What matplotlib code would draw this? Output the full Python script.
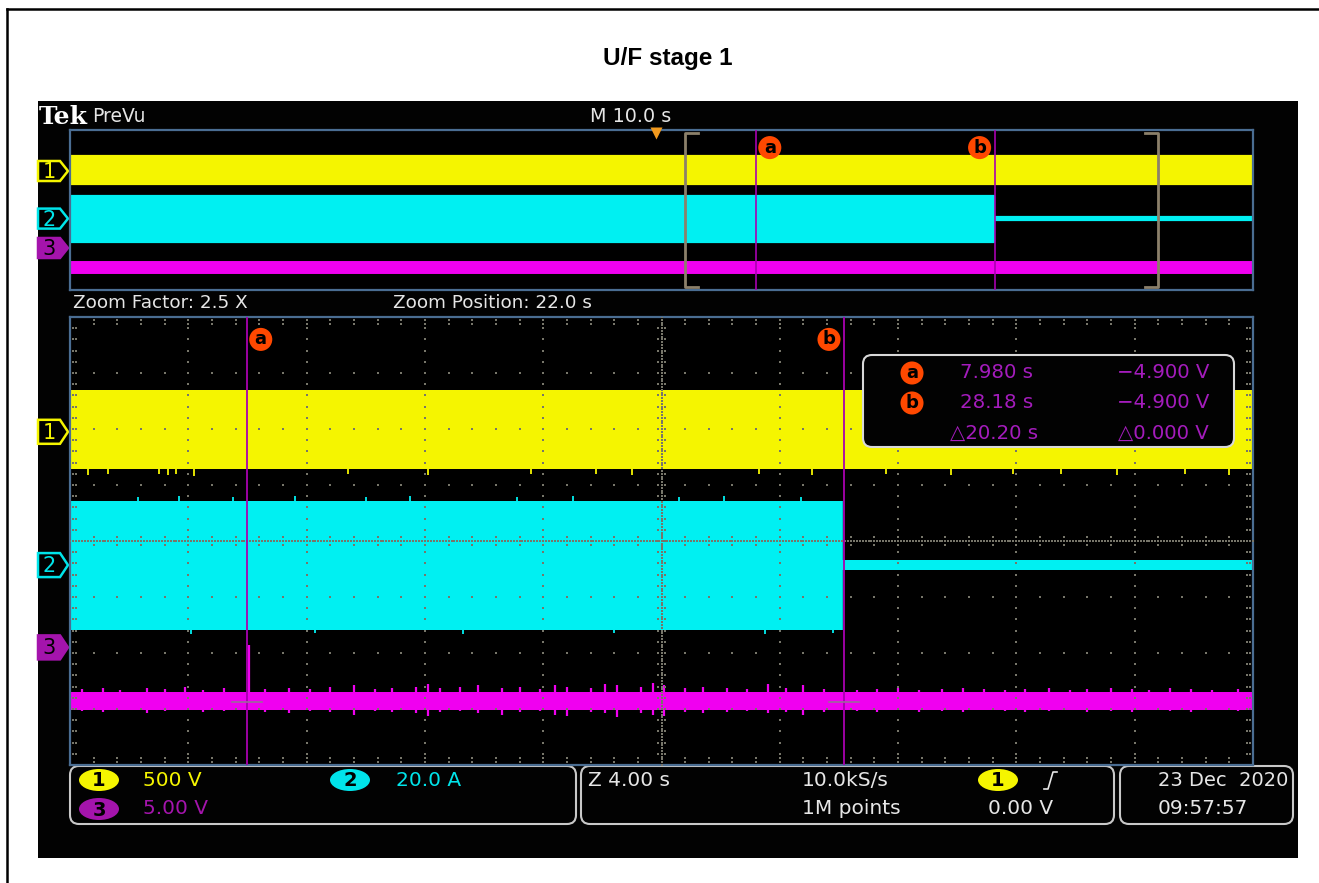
import numpy as np
import matplotlib.pyplot as plt
from matplotlib.patches import Polygon, FancyBboxPatch, Ellipse

W, H = 1319, 883

# channel setup: volts (or amps) per division and offset in divisions
ch_labels = ['1', '2', '3']
ch_scales = [500.0, 20.0, 5.00]
ch_units = ['V', 'A', 'V']
ch_offsets = [1.95, -0.43, -1.90]
ch_colors = ['#f5f500', '#00f0f2', '#f000f0']
ch_tag_colors = ['#f5f500', '#00e4ea', '#a414ac']

# acquisition: 10.0 s/div record, 4.00 s/div zoom centred at 22.0 s
record_window = (-50.0, 50.0)
zoom_window = (2.0, 42.0)
trigger_time = 0.0

# trace envelopes as (t_start, t_end, upper, lower) in channel units
ch1_segments = [(-50.0, 50.0, 370.0, -335.0)]
ch2_segments = [(-50.0, 28.12, 23.0, -23.2), (28.12, 50.0, 1.8, -1.8)]
ch3_segments = [(-50.0, 50.0, -3.95, -5.55)]

# short glitches on the band edges: time (s), peak value
ch1_glitch_t = [2.6, 3.3, 5.0, 5.3, 5.6, 6.2, 11.4, 14.1, 17.6, 19.8, 21.0, 25.3,
                27.1, 29.6, 31.8, 33.9, 35.5, 37.4, 39.7, 41.2]
ch1_glitch_v = [-385, -380, -380, -385, -380, -395, -380, -385, -380, -380, -385, -380,
                -385, -380, -385, -380, -380, -385, -380, -385]
ch2_glitch_t = [4.3, 5.7, 6.1, 7.5, 9.6, 10.3, 12.0, 13.5, 15.3, 17.1, 19.0, 20.4,
                22.6, 24.1, 25.5, 26.7, 27.8]
ch2_glitch_v = [24.2, 24.5, -24.5, 24.2, 24.8, -24.4, 24.3, 24.6, -24.6, 24.2, 24.5,
                -24.3, 24.4, 24.7, -24.5, 24.2, -24.4]

# noise spikes on channel 3: time (s), low (V), high (V)
ch3_spike_t = [2.4, 3.1, 3.7, 4.6, 5.2, 5.9, 6.5, 7.2, 8.05, 8.6, 9.4, 10.1, 10.8, 11.6,
               12.3, 12.9, 13.7, 14.1, 14.5, 15.2, 15.8, 16.6, 17.2, 17.9, 18.4, 18.8,
               19.6, 20.1, 20.5, 21.3, 21.7, 22.1, 22.8, 23.4, 24.2, 24.9, 25.6, 26.2,
               26.8, 27.5, 28.6, 29.3, 30.0, 30.7, 31.5, 32.2, 32.9, 33.6, 34.3, 35.1,
               35.8, 36.4, 37.2, 37.9, 38.5, 39.2, 39.9, 40.6, 41.5]
ch3_spike_lo = [-5.7, -5.8, -5.6, -5.9, -5.7, -5.6, -5.8, -5.7, -5.6, -5.8, -5.9, -5.7,
                -5.8, -6.0, -5.7, -5.8, -5.9, -6.1, -5.8, -5.7, -5.9, -6.0, -5.8, -5.7,
                -6.0, -6.1, -5.8, -5.9, -6.2, -5.9, -6.0, -6.1, -5.8, -5.9, -5.8, -5.7,
                -5.9, -5.8, -6.0, -5.8, -5.7, -5.8, -5.6, -5.8, -5.7, -5.8, -5.6, -5.7,
                -5.8, -5.7, -5.6, -5.8, -5.7, -5.8, -5.6, -5.7, -5.8, -5.6, -5.7]
ch3_spike_hi = [-3.7, -3.6, -3.8, -3.6, -3.7, -3.5, -3.8, -3.6, 0.2, -3.7, -3.6, -3.7,
                -3.5, -3.4, -3.7, -3.6, -3.5, -3.3, -3.6, -3.5, -3.4, -3.6, -3.5, -3.7,
                -3.4, -3.5, -3.6, -3.3, -3.4, -3.5, -3.2, -3.4, -3.6, -3.5, -3.6, -3.7,
                -3.3, -3.6, -3.4, -3.7, -3.8, -3.7, -3.6, -3.8, -3.7, -3.6, -3.7, -3.8,
                -3.7, -3.6, -3.8, -3.7, -3.6, -3.7, -3.8, -3.6, -3.7, -3.8, -3.7]

# cursors a and b
cursor_names = ['a', 'b']
cursor_t = [7.980, 28.18]
cursor_v = [-4.900, -4.900]

grid_col = '#77766a'
frame_col = '#4a6d92'
cursor_col = '#a800b0'
readout_col = '#a41cbc'
badge_col = '#ff4800'
text_col = '#e6e6e6'
SCOPE = dict(family='DejaVu Sans')


def px_axes(fig, l, t, r, b, z=1):
    ax = fig.add_axes([l / W, 1 - b / H, (r - l) / W, (b - t) / H], zorder=z)
    ax.set_facecolor('black')
    ax.set_xticks([])
    ax.set_yticks([])
    for s in ax.spines.values():
        s.set_color(frame_col)
        s.set_linewidth(1.6)
    return ax


def div(k, v):
    return ch_offsets[k] + v / ch_scales[k]


def draw_traces(ax, edge, spikes):
    for k, segs in enumerate([ch1_segments, ch2_segments, ch3_segments]):
        for t0, t1, hi, lo in segs:
            ax.fill_between([t0, t1], div(k, lo), div(k, hi), color=ch_colors[k],
                            lw=edge[k], zorder=2)
    if spikes:
        ax.vlines(ch3_spike_t, [div(2, v) for v in ch3_spike_lo],
                  [div(2, v) for v in ch3_spike_hi], color=ch_colors[2], lw=1.6, zorder=2)
        ax.vlines(ch1_glitch_t, div(0, ch1_segments[0][3]), [div(0, v) for v in ch1_glitch_v],
                  color=ch_colors[0], lw=1.3, zorder=2)
        ch2_base = [div(1, 0.0) for v in ch2_glitch_v]
        ax.vlines(ch2_glitch_t, ch2_base, [div(1, v) for v in ch2_glitch_v],
                  color=ch_colors[1], lw=1.3, zorder=1.9)
    # channel 2 step edge
    ax.vlines(ch2_segments[1][0], div(1, ch2_segments[0][3]), div(1, ch2_segments[0][2]),
              color=ch_colors[1], lw=1.2, zorder=2)


def draw_graticule(ax, t0, t1):
    dx = (t1 - t0) / 10.0
    mx = dx / 5.0
    pts = []
    for i in range(1, 10):
        x = t0 + i * dx
        for y in np.arange(-4 + 0.2, 4 - 0.1, 0.2):
            pts.append((x, y))
    for j in range(-3, 4):
        for x in np.arange(t0 + mx, t1 - mx / 2, mx):
            pts.append((x, j))
    # edge ticks
    for y in np.arange(-4 + 0.2, 4 - 0.1, 0.2):
        for e in (0.12, 0.24):
            pts.append((t0 + e * mx, y))
            pts.append((t1 - e * mx, y))
    for x in np.arange(t0 + mx, t1 - mx / 2, mx):
        for e in (0.06, 0.12):
            pts.append((x, -4 + e))
            pts.append((x, 4 - e))
    # centre crosshair, dense dotted with ticks
    xc = t0 + 5 * dx
    for y in np.arange(-4, 4.01, 0.05):
        pts.append((xc, y))
    for x in np.arange(t0, t1 + 0.01, mx / 8):
        pts.append((x, 0))
    for y in np.arange(-4 + 0.2, 4 - 0.1, 0.2):
        pts.append((xc - mx * 0.15, y))
        pts.append((xc + mx * 0.15, y))
    for x in np.arange(t0 + mx, t1 - mx / 2, mx):
        pts.append((x, 0.07))
        pts.append((x, -0.07))
    pts = np.array(pts)
    ax.scatter(pts[:, 0], pts[:, 1], s=1.6, marker='s', color=grid_col,
               linewidths=0, zorder=3)


def badge(ax, name, t, yfrac, dx):
    ax.annotate(name, xy=(t, yfrac), xycoords=ax.get_xaxis_transform(),
                xytext=(dx, 0), textcoords='offset points', ha='center', va='center',
                fontsize=13, fontweight='bold', color='black', family='DejaVu Sans',
                bbox=dict(boxstyle='circle,pad=0.14', fc=badge_col, ec='none'),
                zorder=6, annotation_clip=False)


def ch_tag(bg, k, y, h, w=30):
    x0 = 38
    pts = [(x0, y - h / 2), (x0 + w - 8, y - h / 2), (x0 + w, y),
           (x0 + w - 8, y + h / 2), (x0, y + h / 2)]
    filled = (k == 2)
    bg.add_patch(Polygon(pts, closed=True, fc=ch_tag_colors[k] if filled else 'black',
                         ec=ch_tag_colors[k], lw=1.8, zorder=3))
    bg.text(x0 + 11, y + 1, ch_labels[k], color='black' if filled else ch_tag_colors[k],
            fontsize=15, ha='center', va='center', zorder=4, **SCOPE)


def pill(bg, x, y, k, color):
    bg.add_patch(Ellipse((x, y), 40, 22, fc=color, ec='none', zorder=3))
    bg.text(x, y + 1, ch_labels[k], color='black', fontsize=14, fontweight='bold',
            ha='center', va='center', zorder=4, **SCOPE)


fig = plt.figure(figsize=(W / 100, H / 100), dpi=100)
fig.patch.set_facecolor('white')

bg = fig.add_axes([0, 0, 1, 1], zorder=0)
bg.set_xlim(0, W)
bg.set_ylim(H, 0)
bg.axis('off')

# page frame and title
bg.plot([7, W], [9, 9], color='black', lw=1.8)
bg.plot([7, 7], [9, H], color='black', lw=1.8)
bg.text(668, 58, 'U/F stage 1', fontsize=17.5, fontweight='bold', ha='center',
        va='center', family='Liberation Sans')

# instrument screen
bg.add_patch(plt.Rectangle((38, 101), 1298 - 38, 858 - 101, fc='#020202', ec='none'))
bg.text(39, 124, 'Tek', color='white', fontsize=18, fontweight='bold',
        family='DejaVu Serif', va='baseline')
bg.text(92, 116, 'PreVu', color=text_col, fontsize=13.5, va='center', **SCOPE)
bg.text(590, 116, 'M 10.0 s', color=text_col, fontsize=13.8, va='center', **SCOPE)
bg.text(73, 303, 'Zoom Factor: 2.5 X', color=text_col, fontsize=13.2, va='center', **SCOPE)
bg.text(393, 303, 'Zoom Position: 22.0 s', color=text_col, fontsize=13.2, va='center',
        **SCOPE)

# record overview
ax_o = px_axes(fig, 70, 130, 1253, 290)
ax_o.set_xlim(*record_window)
ax_o.set_ylim(-4, 4)
draw_traces(ax_o, edge=[1.6, 1.6, 5.0], spikes=False)
ax_o.plot(trigger_time - 0.5, 0.98, marker='v', color='#f29a1e', ms=8, mec='none',
          transform=ax_o.get_xaxis_transform(), clip_on=False, zorder=6)
zl, zr = zoom_window
ax_o.plot([zl + 1.1, zl, zl, zl + 1.1], [3.85, 3.85, -3.85, -3.85], color='#8c806a',
          lw=2, zorder=5)
ax_o.plot([zr - 1.1, zr, zr, zr - 1.1], [3.85, 3.85, -3.85, -3.85], color='#8c806a',
          lw=2, zorder=5)
for name, t, dx in zip(cursor_names, cursor_t, [10, -11]):
    ax_o.axvline(t, color=cursor_col, lw=1.2, zorder=4)
    badge(ax_o, name, t, 0.89, dx)

# zoomed view
ax_m = px_axes(fig, 70, 317, 1253, 765)
ax_m.set_xlim(*zoom_window)
ax_m.set_ylim(-4, 4)
draw_traces(ax_m, edge=[0, 0, 0], spikes=True)
draw_graticule(ax_m, *zoom_window)
for name, t, v, dx in zip(cursor_names, cursor_t, cursor_v, [10, -11]):
    ax_m.axvline(t, color=cursor_col, lw=1.3, zorder=4)
    ax_m.plot([t - 0.5, t + 0.5], [div(2, v)] * 2, color='#9a6a9a', lw=1.2, zorder=4)
    badge(ax_m, name, t, 0.95, dx)

# channel tags left of the graticules
for k in range(3):
    ch_tag(bg, k, 317 + (4 - ch_offsets[k]) * 56, 24)
    ch_tag(bg, k, 130 + (4 - ch_offsets[k]) * 20, 20)

# cursor readout panel
fg = fig.add_axes([0, 0, 1, 1], zorder=10)
fg.set_xlim(0, W)
fg.set_ylim(H, 0)
fg.axis('off')
fg.add_patch(FancyBboxPatch((863, 355), 371, 92, boxstyle='round,pad=0,rounding_size=9',
                            fc='#020202', ec='#d8d8d8', lw=1.5))
rows = [373, 403, 433]
for name, y, t, v in zip(cursor_names, rows, cursor_t, cursor_v):
    fg.text(912, y, name, ha='center', va='center', fontsize=13, fontweight='bold',
            color='black', bbox=dict(boxstyle='circle,pad=0.14', fc=badge_col, ec='none'))
    fg.text(960, y, '%.3f s' % t if t < 10 else '%.2f s' % t, color=readout_col,
            fontsize=14.2, va='center', **SCOPE)
    fg.text(1209, y, '\u2212%.3f V' % abs(v), color=readout_col, fontsize=14.2,
            va='center', ha='right', **SCOPE)
fg.text(950, rows[2], '\u25b3%.2f s' % (cursor_t[1] - cursor_t[0]), color=readout_col,
        fontsize=14.2, va='center', **SCOPE)
fg.text(1209, rows[2], '\u25b3%.3f V' % abs(cursor_v[1] - cursor_v[0]),
        color=readout_col, fontsize=14.2, va='center', ha='right', **SCOPE)

# status bar
for x0, x1 in [(70, 576), (581, 1114), (1120, 1293)]:
    bg.add_patch(FancyBboxPatch((x0, 766), x1 - x0, 58, boxstyle='round,pad=0,rounding_size=9',
                                fc='none', ec='#c8c8c8', lw=1.5, zorder=2))
r1, r2 = 780, 809
fs = 14.5
pill(bg, 99, r1, 0, ch_tag_colors[0])
bg.text(143, r1, '%.0f %s' % (ch_scales[0], ch_units[0]), color=ch_tag_colors[0],
        fontsize=fs, va='center', **SCOPE)
pill(bg, 350, r1, 1, ch_tag_colors[1])
bg.text(396, r1, '%.1f %s' % (ch_scales[1], ch_units[1]), color=ch_tag_colors[1],
        fontsize=fs, va='center', **SCOPE)
pill(bg, 99, r2, 2, ch_tag_colors[2])
bg.text(143, r2, '%.2f %s' % (ch_scales[2], ch_units[2]), color=ch_tag_colors[2],
        fontsize=fs, va='center', **SCOPE)

bg.text(588, r1, 'Z 4.00 s', color=text_col, fontsize=fs, va='center', **SCOPE)
bg.text(802, r1, '10.0kS/s', color=text_col, fontsize=fs, va='center', **SCOPE)
bg.text(802, r2, '1M points', color=text_col, fontsize=fs, va='center', **SCOPE)
pill(bg, 998, r1, 0, ch_tag_colors[0])
bg.plot([1044, 1048, 1053, 1057], [789, 789, 772, 772], color=text_col, lw=1.2, zorder=4)
bg.text(1053, r2, '0.00 V', color=text_col, fontsize=fs, va='center', ha='right', **SCOPE)
bg.text(1158, r1, '23 Dec  2020', color=text_col, fontsize=14, va='center', **SCOPE)
bg.text(1158, r2, '09:57:57', color=text_col, fontsize=fs, va='center', **SCOPE)

fig.savefig('out.png', dpi=100, facecolor='white')
